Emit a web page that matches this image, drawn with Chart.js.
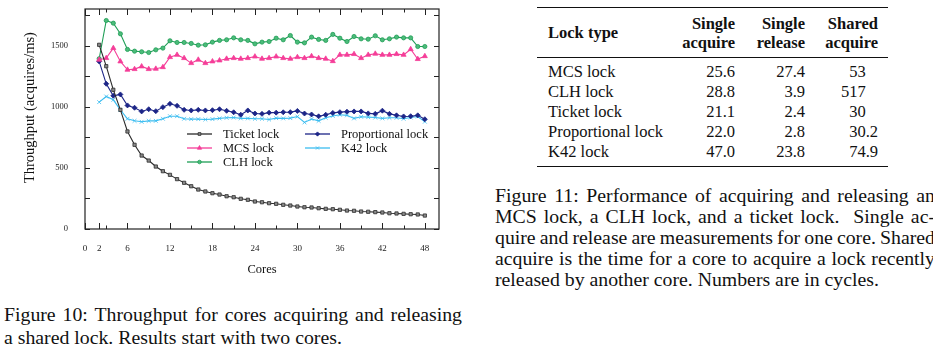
<!DOCTYPE html>
<html>
<head>
<meta charset="utf-8">
<script src="https://cdn.jsdelivr.net/npm/chart.js@4.4.1/dist/chart.umd.min.js"></script>
<style>
  html, body { margin:0; padding:0; background:#fff; width:933px; height:355px; overflow:hidden; }
  body { position:relative; font-family:"Liberation Serif", "DejaVu Serif", serif; color:#111; }
  #chartBox { position:absolute; left:0; top:0; width:460px; height:285px; }
  .cap { position:absolute; font-size:19.8px; line-height:21px; white-space:nowrap; }
  .cap div { height:21px; }
  .just { text-align:justify; text-align-last:justify; white-space:normal; }
  table.lk { position:absolute; left:537px; top:7px; width:351px; border-collapse:collapse; font-size:16.5px; table-layout:fixed; white-space:nowrap; }
  table.lk th, table.lk td { padding:0; }
  table.lk thead tr { border-top:1.5px solid #111; border-bottom:1px solid #111; }
  table.lk th { line-height:19px; padding-top:5.5px; padding-bottom:5px; font-weight:bold; text-align:right; }
  table.lk th.first { text-align:left; padding-left:11px; }
  table.lk td { line-height:20px; text-align:right; }
  table.lk td.first { text-align:left; padding-left:11px; }
  table.lk tbody tr:first-child td { padding-top:4.5px; }
  table.lk tbody tr:last-child td { padding-bottom:4px; }
  table.lk tbody { border-bottom:1.5px solid #111; }
  .c4 { padding-right:10px !important; }
  .hid { visibility:hidden; }
</style>
</head>
<body>
<div id="chartBox"><canvas id="c" width="460" height="285"></canvas></div>

<div class="cap" style="left:4px; top:304px; width:458px;">
  <div class="just">Figure 10: Throughput for cores acquiring and releasing</div>
  <div style="margin-top:2px;">a shared lock. Results start with two cores.</div>
</div>

<table class="lk">
  <colgroup><col style="width:140px"><col style="width:58px"><col style="width:70px"><col style="width:83px"></colgroup>
  <thead>
    <tr><th class="first">Lock type</th><th>Single<br>acquire</th><th>Single<br>release</th><th class="c4">Shared<br>acquire</th></tr>
  </thead>
  <tbody id="tbody"></tbody>
</table>

<div class="cap" style="left:495px; top:184.5px; width:440px;">
  <div class="just">Figure 11: Performance of acquiring and releasing an</div>
  <div class="just">MCS lock, a CLH lock, and a ticket lock.&nbsp; Single ac-</div>
  <div class="just" style="word-spacing:-1.2px;">quire and release are measurements for one core. Shared</div>
  <div class="just">acquire is the time for a core to acquire a lock recently</div>
  <div>released by another core. Numbers are in cycles.</div>
</div>

<script>
// ---------- chart data ----------
const cores = [2,3,4,5,6,7,8,9,10,11,12,13,14,15,16,17,18,19,20,21,22,23,24,25,26,27,28,29,30,31,32,33,34,35,36,37,38,39,40,41,42,43,44,45,46,47,48];
const ticketLock = [1507,1332,1139,975,798,689,601,560,511,473,443,408,378,350,323,307,293,282,268,260,247,239,225,219,211,206,198,192,184,178,176,170,165,162,157,151,149,143,141,138,135,129,127,124,121,119,110];
const mcsLock = [1385,1398,1480,1371,1303,1308,1330,1308,1311,1324,1406,1425,1398,1357,1385,1357,1371,1379,1393,1398,1393,1398,1411,1393,1398,1411,1398,1393,1406,1398,1414,1398,1393,1373,1425,1425,1431,1398,1425,1434,1425,1425,1431,1425,1471,1390,1414];
const clhLock = [1393,1706,1684,1597,1469,1455,1450,1444,1466,1480,1540,1526,1526,1518,1504,1507,1529,1543,1548,1564,1548,1543,1515,1529,1534,1561,1548,1583,1529,1523,1570,1551,1543,1592,1561,1534,1575,1556,1553,1581,1548,1556,1570,1564,1564,1493,1493];
const proportionalLock = [1371,1188,1090,1101,1011,992,962,980,964,997,1024,1008,975,970,975,970,972,980,967,955,935,970,945,942,952,952,955,956,966,945,937,922,935,950,956,960,962,962,946,942,968,942,930,921,923,930,898];
const k42Lock = [1038,1084,1057,975,902,885,877,885,885,902,923,923,902,899,899,896,899,905,910,912,905,905,902,902,896,907,905,907,920,872,900,885,910,925,935,930,905,918,915,912,905,910,910,902,912,920,878];
const seriesNames = ["Ticket lock","MCS lock","CLH lock","Proportional lock","K42 lock"];
const xTickLabels = [0,2,6,12,18,24,30,36,42,48];
const xMinorTicks = [3,9,15,21,27,33,39,45];
const yTickLabels = [0,500,1000,1500];
const yMinorTicks = [250,750,1250,1750];
const xTitle = "Cores";
const yTitle = "Throughput (acquires/ms)";

// ---------- table data ----------
const tableLocks = ["MCS lock","CLH lock","Ticket lock","Proportional lock","K42 lock"];
const singleAcquire = ["25.6","28.8","21.1","22.0","47.0"];
const singleRelease = ["27.4","3.9","2.4","2.8","23.8"];
const sharedAcquire = ["53","517","30","30.2","74.9"];

const tb = document.getElementById('tbody');
tableLocks.forEach((n, i) => {
  const tr = document.createElement('tr');
  const sa = sharedAcquire[i];
  const saHtml = sa.indexOf('.') >= 0 ? sa : sa + '<span class="hid">.0</span>';
  tr.innerHTML = '<td class="first">' + n + '</td><td>' + singleAcquire[i] + '</td><td>' + singleRelease[i] + '</td><td class="c4">' + saHtml + '</td>';
  tb.appendChild(tr);
});

const pts = arr => cores.map((c, i) => ({x: c, y: arr[i]}));
const styles = [
  {color:'#2b2b2b', fill:'#8a8a8a', point:'rect', r:2.3},
  {color:'#f53d98', fill:'#f53d98', point:'triangle', r:2.9},
  {color:'#1e9e55', fill:'#4cbb7a', point:'circle', r:2.1},
  {color:'#1c2587', fill:'#1c2587', point:'rectRot', r:2.5},
  {color:'#3cbdf0', fill:'#3cbdf0', point:'crossRot', r:2.7}
];
const seriesData = [ticketLock, mcsLock, clhLock, proportionalLock, k42Lock];
const datasets = seriesData.map((d, i) => ({
  label: seriesNames[i],
  data: pts(d),
  borderColor: styles[i].color,
  backgroundColor: styles[i].fill,
  pointBackgroundColor: styles[i].fill,
  pointBorderColor: styles[i].color,
  pointStyle: styles[i].point,
  pointRadius: styles[i].r,
  pointBorderWidth: 0.8,
  borderWidth: 1.1,
  tension: 0,
  fill: false
}));

const SERIF = "'Liberation Serif', 'Times New Roman', serif";

const frameTicks = {
  id: 'frameTicks',
  afterDatasetsDraw(chart) {
    const {ctx, chartArea: a, scales} = chart;
    const xs = scales.x, ys = scales.y;
    ctx.save();
    ctx.strokeStyle = '#222';
    ctx.lineWidth = 1.2;
    ctx.strokeRect(a.left, a.top, a.right - a.left, a.bottom - a.top);
    ctx.lineWidth = 1;
    ctx.beginPath();
    const yt = yTickLabels.concat(yMinorTicks);
    yt.forEach(v => {
      const y = Math.round(ys.getPixelForValue(v)) + 0.5;
      ctx.moveTo(a.left, y); ctx.lineTo(a.left + 5, y);
      ctx.moveTo(a.right, y); ctx.lineTo(a.right - 5, y);
    });
    xTickLabels.forEach(v => {
      const x = Math.round(xs.getPixelForValue(v)) + 0.5;
      ctx.moveTo(x, a.bottom); ctx.lineTo(x, a.bottom - 6);
      ctx.moveTo(x, a.top); ctx.lineTo(x, a.top + 6);
    });
    xMinorTicks.forEach(v => {
      const x = Math.round(xs.getPixelForValue(v)) + 0.5;
      ctx.moveTo(x, a.bottom); ctx.lineTo(x, a.bottom - 3.5);
      ctx.moveTo(x, a.top); ctx.lineTo(x, a.top + 3.5);
    });
    ctx.stroke();

    // y-axis title (placed as in the reference, slightly above centre)
    ctx.save();
    ctx.translate(30, a.top + (a.bottom - a.top) * 0.448);
    ctx.rotate(-Math.PI / 2);
    ctx.font = '14.5px ' + SERIF;
    ctx.fillStyle = '#111';
    ctx.textAlign = 'center';
    ctx.textBaseline = 'middle';
    ctx.fillText(yTitle, 0, 0);
    ctx.restore();

    // in-plot legend (two columns)
    const slots = [
      {col:0,row:0},{col:0,row:1},{col:0,row:2},{col:1,row:0},{col:1,row:1}
    ];
    const colX = [a.left + 102, a.left + 220];
    ctx.font = '12.5px ' + SERIF;
    ctx.textBaseline = 'middle';
    chart.data.datasets.forEach((ds, i) => {
      const s = slots[i];
      const x0 = colX[s.col], y = a.top + 125 + s.row * 14;
      ctx.strokeStyle = ds.borderColor;
      ctx.lineWidth = 1.3;
      ctx.beginPath(); ctx.moveTo(x0, y); ctx.lineTo(x0 + 25, y); ctx.stroke();
      ctx.fillStyle = ds.pointBackgroundColor;
      ctx.strokeStyle = ds.pointBorderColor;
      ctx.lineWidth = 0.8;
      Chart.helpers.drawPoint(ctx, {pointStyle: ds.pointStyle, radius: ds.pointRadius * 0.85, rotation: 0, borderWidth: 0.8}, x0 + 12.5, y);
      ctx.fillStyle = '#111';
      ctx.fillText(ds.label, x0 + 36, y + 0.5);
    });
    ctx.restore();
  }
};

new Chart(document.getElementById('c'), {
  type: 'line',
  data: { datasets },
  options: {
    responsive: false,
    animation: false,
    devicePixelRatio: 1,
    layout: { padding: { left: 0, top: 9, right: 21, bottom: 0 } },
    plugins: { legend: { display: false }, tooltip: { enabled: false } },
    scales: {
      x: {
        type: 'linear', min: 0, max: 50,
        grid: { display: false, drawTicks: false },
        border: { display: false },
        afterBuildTicks: s => { s.ticks = xTickLabels.map(v => ({value: v})); },
        afterFit: s => { s.height = 56; s.paddingLeft = 0; s.paddingRight = 0; },
        ticks: { padding: 14, autoSkip: false, maxRotation: 0, color: '#222', font: { family: SERIF, size: 9 }, callback: v => String(v) },
        title: { display: true, text: xTitle, color: '#111', font: { family: SERIF, size: 12.5 }, padding: { top: 0, bottom: 8 } }
      },
      y: {
        type: 'linear', min: 0, max: 1800,
        grid: { display: false, drawTicks: false },
        border: { display: false },
        afterBuildTicks: s => { s.ticks = yTickLabels.map(v => ({value: v})); },
        afterFit: s => { s.width = 85; s.paddingTop = 0; s.paddingBottom = 0; },
        ticks: { padding: 17, color: '#222', font: { family: SERIF, size: 8.5 }, callback: v => String(v) },
        title: { display: false }
      }
    }
  },
  plugins: [frameTicks]
});
</script>
</body>
</html>
